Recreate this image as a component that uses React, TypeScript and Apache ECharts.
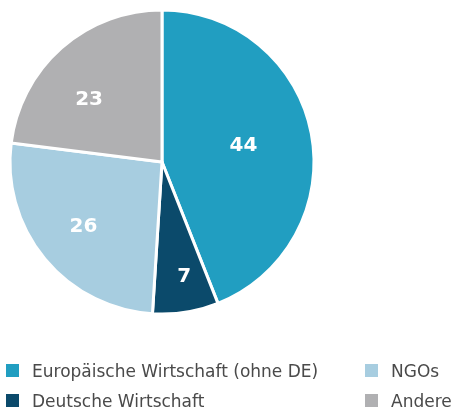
import React, { useEffect, useRef } from "react";
import * as echarts from "echarts";

const categories = [
  "Europäische Wirtschaft (ohne DE)",
  "Deutsche Wirtschaft",
  "NGOs",
  "Andere",
];
const values = [44, 7, 26, 23];
const colors = ["#219ec1", "#0b4a6b", "#a7cde0", "#b0b0b2"];
const labelDistance = [83, 117, 102, 96];
const labelTurn = [0, -2, 0, -8];

const CX = 162;
const CY = 162;
const R = 152;

const legendPos = [
  { left: 4, top: 362 },
  { left: 4, top: 392 },
  { left: 363, top: 362 },
  { left: 363, top: 392 },
];

export default function App() {
  const ref = useRef<HTMLDivElement>(null);
  useEffect(() => {
    if (!ref.current) return;
    const chart = echarts.init(ref.current, undefined, { renderer: "svg" });
    const font = "'DejaVu Sans', sans-serif";
    chart.setOption({
      animation: false,
      color: colors,
      legend: categories.map((name, i) => ({
        data: [name],
        left: legendPos[i].left,
        top: legendPos[i].top,
        padding: 0,
        icon: "rect",
        itemWidth: 15,
        itemHeight: 15,
        selectedMode: false,
        textStyle: {
          fontFamily: font,
          fontSize: 17,
          color: "#4a4a4a",
          padding: [0, 0, 0, 7],
        },
      })),
      series: [
        {
          type: "pie",
          center: [CX, CY],
          radius: [0, R],
          startAngle: 90,
          clockwise: true,
          itemStyle: { borderColor: "#fff", borderWidth: 3 },
          label: {
            show: true,
            position: "inside",
            formatter: "{c}",
            color: "#fff",
            fontFamily: font,
            fontWeight: "bold",
            fontSize: 20,
          },
          labelLine: { show: false },
          emphasis: { disabled: true },
          labelLayout: (params: any) => {
            const r = params.labelRect;
            const lx = r.x + r.width / 2;
            const ly = r.y + r.height / 2;
            const vx = lx - CX;
            const vy = ly - CY;
            const len = Math.sqrt(vx * vx + vy * vy) || 1;
            const d = labelDistance[params.dataIndex] ?? len;
            const t = ((labelTurn[params.dataIndex] ?? 0) * Math.PI) / 180;
            const ux = vx / len;
            const uy = vy / len;
            const rx = ux * Math.cos(t) - uy * Math.sin(t);
            const ry = ux * Math.sin(t) + uy * Math.cos(t);
            return { dx: rx * d - vx, dy: ry * d - vy - 2 };
          },
          data: categories.map((name, i) => ({ name, value: values[i] })),
        },
      ],
    });
    return () => chart.dispose();
  }, []);
  return (
    <div
      ref={ref}
      style={{ position: "fixed", left: 0, top: 0, width: 454, height: 412 }}
    />
  );
}
